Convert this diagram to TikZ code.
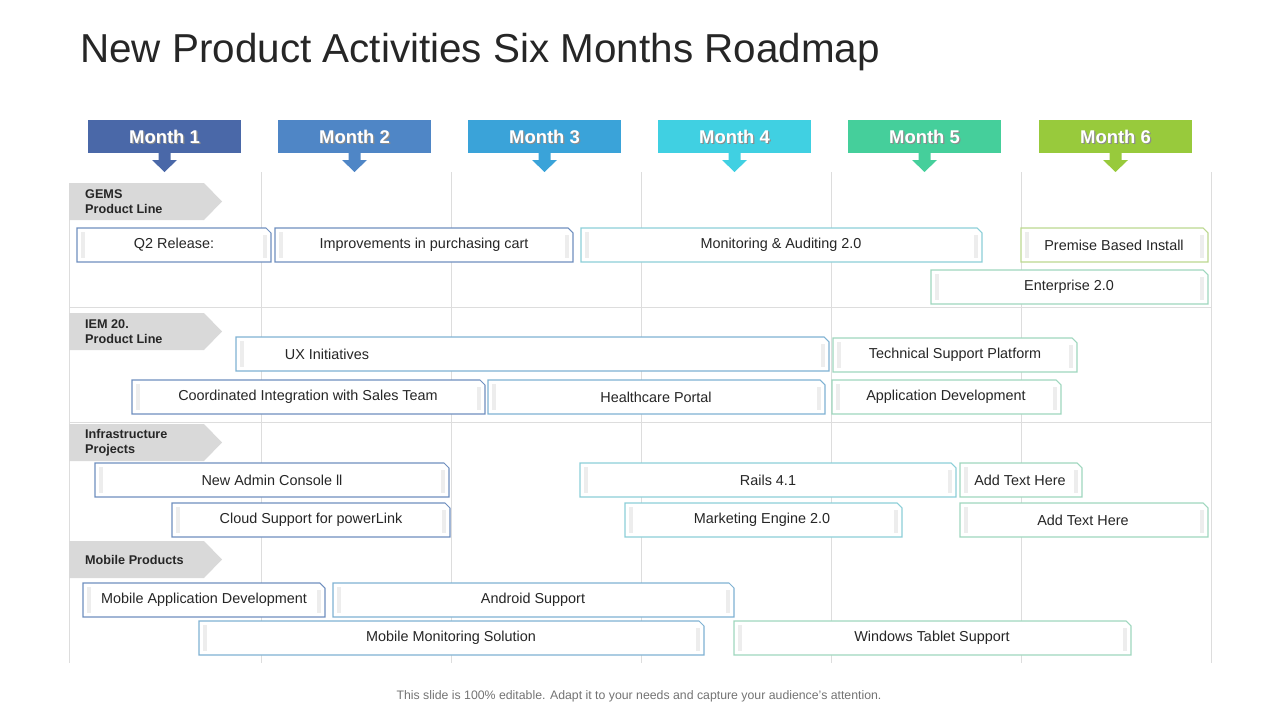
\documentclass[tikz,border=0pt]{standalone}
\usepackage{fontspec}
\setmainfont{Liberation Sans}
\usetikzlibrary{calc,shadows}
\definecolor{mA}{HTML}{4A68A8}
\definecolor{mB}{HTML}{4F86C6}
\definecolor{mC}{HTML}{3AA3D9}
\definecolor{mD}{HTML}{40D0E2}
\definecolor{mE}{HTML}{45CF9B}
\definecolor{mF}{HTML}{98CA3C}
\definecolor{bA}{HTML}{6F8FBF}
\definecolor{bB}{HTML}{7FB2D3}
\definecolor{bC}{HTML}{8CCFD8}
\definecolor{bD}{HTML}{9FD7BE}
\definecolor{bE}{HTML}{BCD890}
\definecolor{gridc}{HTML}{DDDDDD}
\definecolor{catc}{HTML}{D9D9D9}
\tikzset{
  bartext/.style={font=\fontsize{8.2pt}{9pt}\selectfont, text=black!85},
  cattext/.style={font=\fontsize{7.2pt}{8.6pt}\selectfont\bfseries, text=black!85, align=left, anchor=west},
  monthtext/.style={font=\fontsize{10.5pt}{12pt}\selectfont\bfseries, text=white},
}
\newcommand{\rbar}[7]{% name, x1, x2, yc, text, colour, textx
  \fill[white] (#2,#4-17) -- (#3-5,#4-17) -- (#3,#4-12) -- (#3,#4+17) -- (#2,#4+17) -- cycle;
  \draw[black!7, line width=2.5pt] (#2+6,#4-13) -- (#2+6,#4+13);
  \draw[black!7, line width=2.5pt] (#3-6,#4-10) -- (#3-6,#4+13);
  \draw[#6, line width=0.6pt] (#2,#4-17) -- (#3-5,#4-17) -- (#3,#4-12) -- (#3,#4+17) -- (#2,#4+17) -- cycle;
  \node[bartext] (#1) at (#7,#4) {#5};
}
\newcommand{\monthbox}[4]{% name, x1, colour, text
  \fill[#3] (#2,120) rectangle (#2+153,153);
  \fill[#3] (#2+70.5,153) -- (#2+82.5,153) -- (#2+82.5,160) -- (#2+89,160) -- (#2+76.5,172) -- (#2+64,160) -- (#2+70.5,160) -- cycle;
  \node[monthtext, text=black!45] at (#2+77.7,137.8) {#4};
  \node[monthtext] (#1) at (#2+76.5,136.5) {#4};
}
\newcommand{\cat}[4]{% name, y1, y2, text
  \fill[catc] (69,#2) -- (204,#2) -- (222,{(#2+#3)/2}) -- (204,#3) -- (69,#3) -- cycle;
  \node[cattext] (#1) at (79,{(#2+#3)/2}) {#4};
}
\begin{document}
\begin{tikzpicture}[x=0.02cm,y=-0.02cm]
\useasboundingbox (0,0) rectangle (1280,720);
\node[anchor=west, font=\fontsize{23pt}{26pt}\selectfont, text=black!85] (title) at (74,52) {New Product Activities Six Months Roadmap};
% grid
\foreach \x in {261,451,641,831,1021,1211} \draw[gridc, line width=0.5pt] (\x,172) -- (\x,663);
\draw[gridc, line width=0.5pt] (69,183) -- (69,663);
\draw[gridc, line width=0.5pt] (69,307) -- (1211,307);
\draw[gridc, line width=0.5pt] (69,422) -- (1211,422);
% months
\monthbox{m1}{88}{mA}{Month 1}
\monthbox{m2}{278}{mB}{Month 2}
\monthbox{m3}{468}{mC}{Month 3}
\monthbox{m4}{658}{mD}{Month 4}
\monthbox{m5}{848}{mE}{Month 5}
\monthbox{m6}{1039}{mF}{Month 6}
% categories
\cat{c1}{183}{220}{GEMS\\Product Line}
\cat{c2}{313}{350}{IEM 20.\\Product Line}
\cat{c3}{424}{461}{Infrastructure\\Projects}
\cat{c4}{541}{578}{Mobile Products}
% bars
\rbar{b1}{77}{271}{245}{Q2 Release:}{bA}{174}
\rbar{b2}{275}{573}{245}{Improvements  in purchasing cart}{bA}{424}
\rbar{b3}{581}{982}{245}{Monitoring \& Auditing 2.0}{bC}{781}
\rbar{b4}{1021}{1208}{245}{Premise Based Install}{bE}{1114}
\rbar{b5}{931}{1208}{287}{Enterprise 2.0}{bD}{1069}
\rbar{b6}{236}{829}{354}{UX Initiatives}{bB}{327}
\rbar{b7}{833}{1077}{355}{Technical Support Platform}{bD}{955}
\rbar{b8}{132}{485}{397}{Coordinated Integration with Sales Team}{bA}{308}
\rbar{b9}{488}{825}{397}{Healthcare Portal}{bB}{656}
\rbar{b10}{832}{1061}{397}{Application Development}{bD}{946}
\rbar{b11}{95}{449}{480}{New  Admin Console ll}{bA}{272}
\rbar{b12}{580}{956}{480}{Rails 4.1}{bC}{768}
\rbar{b13}{960}{1082}{480}{Add Text Here}{bD}{1020}
\rbar{b14}{172}{450}{520}{Cloud Support for powerLink}{bA}{311}
\rbar{b15}{625}{902}{520}{Marketing Engine 2.0}{bC}{762}
\rbar{b16}{960}{1208}{520}{Add Text Here}{bD}{1083}
\rbar{b17}{83}{325}{600}{Mobile Application Development}{bA}{204}
\rbar{b18}{333}{734}{600}{Android Support}{bB}{533}
\rbar{b19}{199}{704}{638}{Mobile Monitoring Solution}{bB}{451}
\rbar{b20}{734}{1131}{638}{Windows Tablet Support}{bD}{932}
\node[font=\fontsize{7pt}{8pt}\selectfont, text=black!55] (foot) at (639,696) {This slide is 100\% editable. Adapt it to your needs and capture your audience's attention.};
\end{tikzpicture}
\end{document}
